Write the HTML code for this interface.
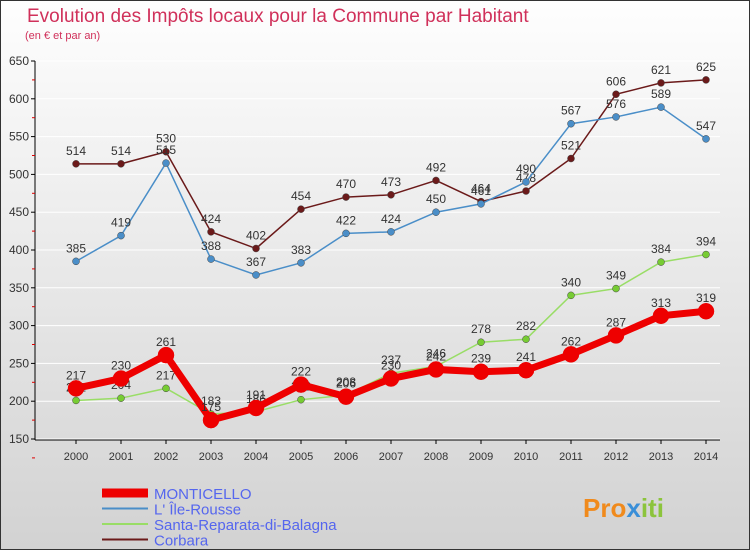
<!DOCTYPE html>
<html><head><meta charset="utf-8"><style>
body{margin:0;width:750px;height:550px;overflow:hidden;font-family:"Liberation Sans",sans-serif}
</style></head><body>
<svg width="750" height="550" xmlns="http://www.w3.org/2000/svg">
<defs><linearGradient id="bg" x1="0" y1="0" x2="0" y2="1"><stop offset="0" stop-color="#fefefe"/><stop offset="1" stop-color="#d2d2d2"/></linearGradient></defs>
<rect x="0.5" y="0.5" width="749" height="549" fill="url(#bg)" stroke="#333"/>
<text x="27" y="22" font-size="19" fill="#d0305a">Evolution des Impôts locaux pour la Commune par Habitant</text>
<text x="25" y="39" font-size="11" fill="#d0305a">(en € et par an)</text>
<g id="axes"></g><g id="series"></g><g id="legend"></g>
<text x="583" y="517" font-size="26" font-weight="bold" fill="#f08a1c">Pro<tspan fill="#3a8fd8">x</tspan><tspan fill="#8cc43c">iti</tspan></text>
</svg>
<script>
const years=["2000","2001","2002","2003","2004","2005","2006","2007","2008","2009","2010","2011","2012","2013","2014"];
const yTicks=[150,200,250,300,350,400,450,500,550,600,650];
const monticello=[217,230,261,175,191,222,206,230,242,239,241,262,287,313,319];
const ileRousse=[385,419,515,388,367,383,422,424,450,461,490,567,576,589,547];
const santaReparata=[201,204,217,183,186,202,208,237,246,278,282,340,349,384,394];
const corbara=[514,514,530,424,402,454,470,473,492,464,478,521,606,621,625];
const NS="http://www.w3.org/2000/svg";
const X=i=>76+i*45, Y=v=>61+(650-v)*(378/500);
function mk(t,a,p){const e=document.createElementNS(NS,t);for(const k in a)e.setAttribute(k,a[k]);p.appendChild(e);return e;}
const ax=document.getElementById('axes');
let l=mk('line',{x1:35,y1:61,x2:35,y2:440,stroke:'#000'},ax);


l=mk('line',{x1:35,y1:440,x2:720,y2:440,stroke:'#000'},ax);


yTicks.forEach(v=>{const y=Y(v);
 const gl=mk('line',{x1:36,y1:y,x2:720,y2:y,stroke:'#fff','stroke-width':1},ax);
 
 
 mk('line',{x1:31,y1:y,x2:35,y2:y,stroke:'#000'},ax);
 mk('line',{x1:32,y1:y+18.9,x2:35,y2:y+18.9,stroke:'#d00'},ax);
 const t=mk('text',{x:29,y:y+4,'font-size':12,'text-anchor':'end',fill:'#333'},ax);t.textContent=v;
 
 });
years.forEach((yr,i)=>{const t=mk('text',{x:X(i),y:460,'font-size':11,'text-anchor':'middle',fill:'#333'},ax);t.textContent=yr;
 
 
 mk('line',{x1:X(i),y1:440,x2:X(i),y2:444,stroke:'#000'},ax);});
const sg=document.getElementById('series');
const series=[
 {d:corbara,c:'#6b1a1a',w:1.5,r:3.5,name:'corbara'},
 {d:ileRousse,c:'#4a8ec8',w:1.5,r:3.5,name:'ile-rousse'},
 {d:santaReparata,c:'#99dd66',w:1.5,r:3.5,name:'santa-reparata'},
 {d:monticello,c:'#ee0000',w:7,r:8,name:'monticello'}];
series.forEach(s=>{const g=mk('g',{},sg);
 
 
 const p=mk('polyline',{points:s.d.map((v,i)=>X(i)+','+Y(v)).join(' '),fill:'none',stroke:s.c,'stroke-width':s.w},g);
 
 
 s.d.forEach((v,i)=>{const c=mk('circle',{cx:X(i),cy:Y(v),r:s.r,fill:s.name=='santa-reparata'?'#77cc33':s.c,stroke:s.name=='monticello'?'#e00':'#444','stroke-width':0.5},g);
  
  
  const t=mk('text',{x:X(i),y:Y(v)-9,'font-size':12,'text-anchor':'middle',fill:'#333'},g);t.textContent=v;
  
  });});
const lg=document.getElementById('legend');
const leg=[['MONTICELLO','#ee0000',9],['L\' Île-Rousse','#4a8ec8',2],['Santa-Reparata-di-Balagna','#99dd66',2],['Corbara','#6b1a1a',2]];
leg.forEach((e,i)=>{const y=493+i*15.5;
 const g=mk('g',{},lg);
 
 
 mk('line',{x1:102,y1:y,x2:148,y2:y,stroke:e[1],'stroke-width':e[2]},g);
 const t=mk('text',{x:154,y:y+6,'font-size':15,fill:'#5566ee'},g);t.textContent=e[0];});
</script>
</body></html>
